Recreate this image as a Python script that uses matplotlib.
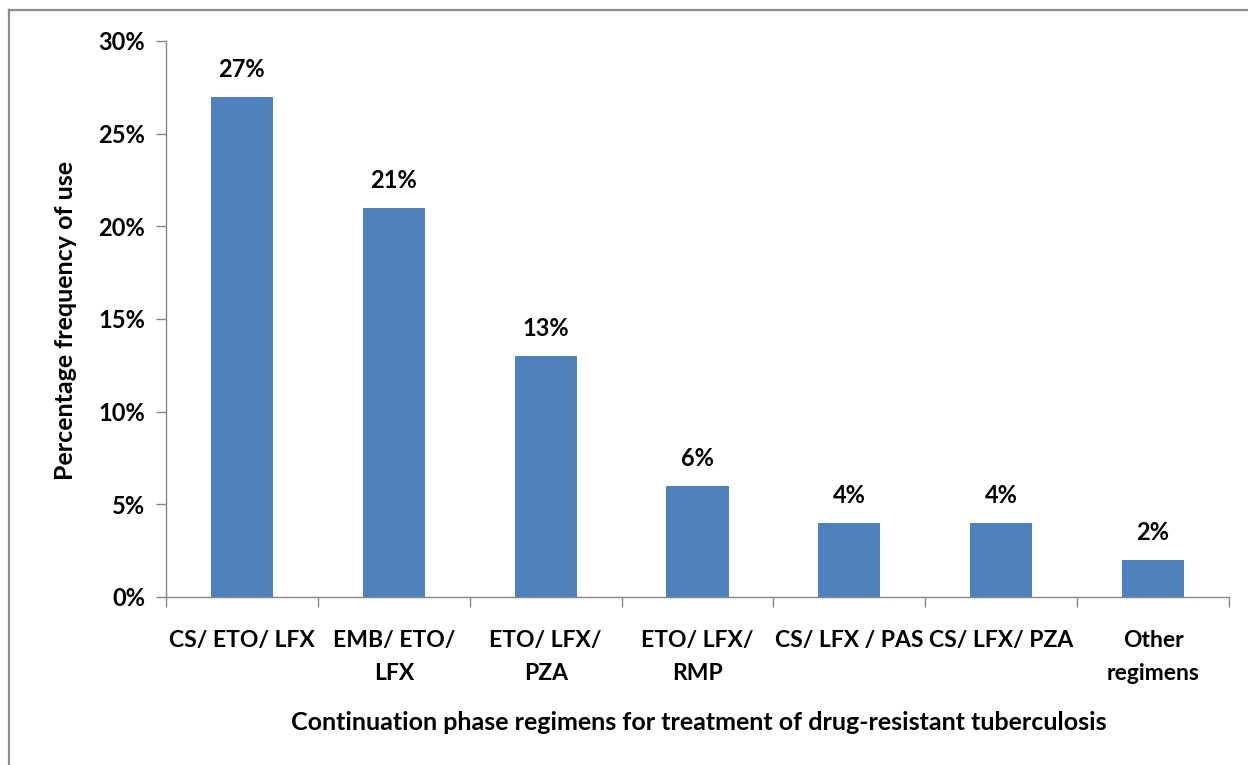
import matplotlib.pyplot as plt
from matplotlib.lines import Line2D
import numpy as np

regimens = ['CS/ ETO/ LFX', 'EMB/ ETO/\nLFX', 'ETO/ LFX/\nPZA', 'ETO/ LFX/\nRMP',
            'CS/ LFX / PAS', 'CS/ LFX/ PZA', 'Other\nregimens']
frequency = [27, 21, 13, 6, 4, 4, 2]
y_ticks = [0, 5, 10, 15, 20, 25, 30]

plt.rcParams['font.family'] = ['Lato', 'DejaVu Sans']

W, H = 1248, 765
fig = plt.figure(figsize=(W / 100, H / 100), dpi=100)
ax = fig.add_axes([166 / W, 1 - 597 / H, (1229 - 166) / W, (597 - 41) / H])
ax_w, ax_h = 1229 - 166, 597 - 41

x = np.arange(len(regimens))
ax.bar(x, frequency, width=0.41, color='#4F81BD', zorder=2)

for xi, v in zip(x, frequency):
    ax.text(xi, v + 0.85, f'{v}%', ha='center', va='bottom',
            fontsize=17, fontweight='bold', color='black')

ax.set_xlim(-0.5, len(regimens) - 0.5)
ax.set_ylim(0, 30)
ax.set_yticks(y_ticks)
ax.set_yticklabels([f'{t}%' for t in y_ticks], fontsize=17, fontweight='bold')

# category labels centred under bars, ticks on category boundaries
ax.set_xticks(x)
ax.set_xticklabels(regimens, fontsize=16.5, fontweight='bold', linespacing=1.7)
ax.tick_params(axis='x', length=0, pad=24)
ax.set_xticks(np.arange(len(regimens) + 1) - 0.5, minor=True)
ax.tick_params(axis='x', which='minor', length=7, color='#868686', width=1)
ax.tick_params(axis='y', length=7, color='#868686', width=1, pad=8)

for side in ['top', 'right']:
    ax.spines[side].set_visible(False)
for side in ['left', 'bottom']:
    ax.spines[side].set_color('#868686')
    ax.spines[side].set_linewidth(1)

ax.set_ylabel('Percentage frequency of use', fontsize=18, fontweight='bold')
ax.yaxis.set_label_coords(-(166 - 77) / ax_w, (597 - 321) / ax_h)
ax.set_xlabel('Continuation phase regimens for treatment of drug-resistant tuberculosis',
              fontsize=18, fontweight='bold')
ax.xaxis.set_label_coords((699 - 166) / ax_w, -(711 - 597) / ax_h)

# frame lines along the top and left of the figure
fig.add_artist(Line2D([9 / W, 9 / W], [0, 1 - 10 / H], color='#8c8c8c', lw=1.6))
fig.add_artist(Line2D([9 / W, 1], [1 - 10 / H, 1 - 10 / H], color='#8c8c8c', lw=1.6))

fig.savefig('out.png', dpi=100)
